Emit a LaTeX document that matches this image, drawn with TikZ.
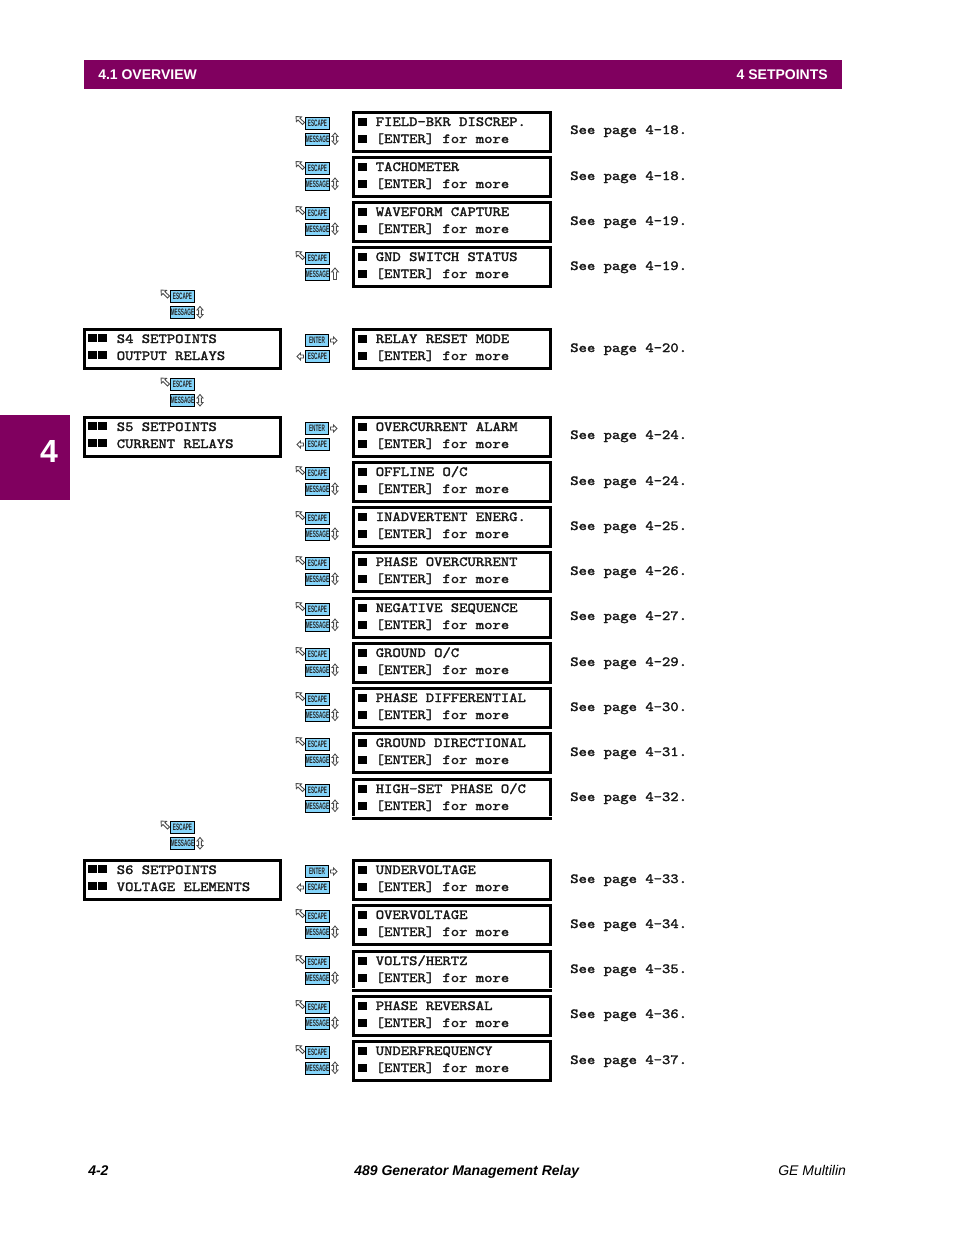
\documentclass[tikz,border=0pt]{standalone}
\usepackage{fontspec}
\setmainfont{Liberation Sans}
\newfontfamily\lcdfont[FakeStretch=1.14,FakeBold=2]{Latin Modern Mono}
\definecolor{gemag}{HTML}{80005F}
\definecolor{keyblue}{HTML}{84D4FA}
\tikzset{
  x=0.75pt,y=-0.75pt,
  lcdbox/.style={draw=black,line width=2.3pt,fill=white,rectangle,minimum width=147.7pt,minimum height=29.3pt,inner sep=0pt,anchor=north west},
  mainbox/.style={lcdbox,minimum width=146.7pt},
  lcdtext/.style={inner sep=0pt,anchor=base west,font=\lcdfont\fontsize{10.45}{12}\selectfont,text=black!90},
  pagetext/.style={lcdtext},
  sq/.style={fill=black,draw=none},
  keybox/.style={draw=black,line width=0.8pt,fill=keyblue,rectangle,minimum width=17.6pt,minimum height=9.4pt,inner sep=0pt,font=\fontsize{7}{8}\bfseries\selectfont,text=black!85},
  hollow/.style={draw=black!70,line width=0.65pt,fill=white},
  headtext/.style={inner sep=0pt,text=white,font=\fontsize{10.5}{12}\selectfont\bfseries},
  foottext/.style={inner sep=0pt,anchor=base west,font=\fontsize{10.5}{12}\selectfont},
}
\newcommand{\diagarrow}[2]{%
  \draw[hollow] (#1,#2) -- ++(5.5,0.4) -- ++(-1.6,1.3) -- ++(4.6,4.3) -- ++(-2,1.9) -- ++(-4.4,-4.4) -- ++(-1.7,1.6) -- cycle;}
\newcommand{\updown}[3]{% x, top, bottom
  \draw[hollow] (#1,#2) -- ++(3,3.5) -- ++(-1.6,0) -- (#1+1.4,#3-3.5) -- ++(1.6,0) -- (#1,#3) -- ++(-3,-3.5) -- ++(1.6,0) -- (#1-1.4,#2+3.5) -- ++(-1.6,0) -- cycle;}
\newcommand{\uponly}[3]{%
  \draw[hollow] (#1,#2) -- ++(3.5,4) -- ++(-2,0) -- (#1+1.5,#3) -- (#1-1.5,#3) -- (#1-1.5,#2+4) -- ++(-2,0) -- cycle;}
\newcommand{\rightarr}[2]{%
  \draw[hollow] (#1,#2-1.5) -- ++(3,0) -- ++(0,-2) -- ++(3.5,3.5) -- ++(-3.5,3.5) -- ++(0,-2) -- ++(-3,0) -- cycle;}
\newcommand{\leftarr}[2]{%
  \draw[hollow] (#1,#2-1.5) -- ++(-3,0) -- ++(0,-2) -- ++(-3.5,3.5) -- ++(3.5,3.5) -- ++(0,-2) -- ++(3,0) -- cycle;}
\newcommand{\keylabel}[4]{% name, cx, cy, text
  \node[keybox] (#1) at (#2,#3) {\scalebox{.5}[1]{#4}};}
% #1 id, #2 top y, #3 text line 1, #4 page, #5 page text base y
\newcommand{\subbox}[5]{%
  \node[lcdbox] (b#1) at (352,#2) {};
  \fill[sq] (358,#2+7) rectangle ++(9,7.6);
  \fill[sq] (358,#2+24) rectangle ++(9,7.6);
  \node[lcdtext] (t#1a) at (375.5,#2+15) {#3};
  \node[lcdtext] (t#1b) at (375.5,#2+32) {[ENTER] for more};
  \node[pagetext] (p#1) at (570,#5) {See page #4};}
\newcommand{\navkeys}[2]{%
  \keylabel{e#1}{317.5}{#2+12.5}{ESCAPE}
  \keylabel{m#1}{317.5}{#2+28.3}{MESSAGE}
  \diagarrow{296}{#2+5.5}
  \updown{335}{#2+22}{#2+33.5}}
\newcommand{\entkeys}[2]{%
  \keylabel{en#1}{317}{#2+12.5}{ENTER}
  \keylabel{ex#1}{317.5}{#2+28.5}{ESCAPE}
  \rightarr{330.5}{#2+12.5}
  \leftarr{303.5}{#2+28.5}}
\newcommand{\leftkeys}[2]{%
  \keylabel{le#1}{182.5}{#2+5.5}{ESCAPE}
  \keylabel{lm#1}{182.5}{#2+21.3}{MESSAGE}
  \diagarrow{161}{#2-1}
  \updown{200}{#2+15.5}{#2+27}}
\newcommand{\mainb}[4]{% id, top, l1, l2
  \node[mainbox] (mb#1) at (83,#2) {};
  \fill[sq] (88,#2+6) rectangle ++(9,7.6);
  \fill[sq] (98,#2+6) rectangle ++(9,7.6);
  \fill[sq] (88,#2+23) rectangle ++(9,7.6);
  \fill[sq] (98,#2+23) rectangle ++(9,7.6);
  \node[lcdtext] (mt#1a) at (116.5,#2+15) {#3};
  \node[lcdtext] (mt#1b) at (116.5,#2+32) {#4};}
\begin{document}
\begin{tikzpicture}
\useasboundingbox (0,0) rectangle (954,1235);
\fill[white] (0,0) rectangle (954,1235);
% header
\fill[gemag] (84,60) rectangle (842,89);
\node[headtext,anchor=west] (hl) at (98,74.5) {4.1 OVERVIEW};
\node[headtext,anchor=east] (hr) at (828,74.5) {4 SETPOINTS};
% side tab
\fill[gemag] (0,415) rectangle (70,500);
\node[inner sep=0pt,text=white,font=\fontsize{24}{26}\selectfont\bfseries] (tab) at (49,451.5) {4};
% first group
\navkeys{1}{111}
\subbox{1}{111}{FIELD-BKR DISCREP.}{4-18.}{134}
\navkeys{2}{156}
\subbox{2}{156}{TACHOMETER}{4-18.}{180}
\navkeys{3}{201}
\subbox{3}{201}{WAVEFORM CAPTURE}{4-19.}{225}
\keylabel{e4}{317.5}{258.5}{ESCAPE}
\keylabel{m4}{317.5}{274.3}{MESSAGE}
\diagarrow{296}{251.5}
\uponly{335}{268}{279.5}
\subbox{4}{246}{GND SWITCH STATUS}{4-19.}{270}
% S4
\leftkeys{a}{291}
\mainb{4}{328}{S4 SETPOINTS}{OUTPUT RELAYS}
\entkeys{5}{328}
\subbox{5}{328}{RELAY RESET MODE}{4-20.}{352}
\leftkeys{b}{379}
% S5
\mainb{5}{416}{S5 SETPOINTS}{CURRENT RELAYS}
\entkeys{6}{416}
\subbox{6}{416}{OVERCURRENT ALARM}{4-24.}{439}
\navkeys{7}{461}
\subbox{7}{461}{OFFLINE O/C}{4-24.}{485}
\navkeys{8}{506}
\subbox{8}{506}{INADVERTENT ENERG.}{4-25.}{530}
\navkeys{9}{551}
\subbox{9}{551}{PHASE OVERCURRENT}{4-26.}{575}
\navkeys{10}{597}
\subbox{10}{597}{NEGATIVE SEQUENCE}{4-27.}{620}
\navkeys{11}{642}
\subbox{11}{642}{GROUND O/C}{4-29.}{666}
\navkeys{12}{687}
\subbox{12}{687}{PHASE DIFFERENTIAL}{4-30.}{711}
\navkeys{13}{732}
\subbox{13}{732}{GROUND DIRECTIONAL}{4-31.}{756}
\navkeys{14}{778}
\subbox{14}{778}{HIGH-SET PHASE O/C}{4-32.}{801}
\fill[white] (352,815.7) rectangle (552,816.8);
\leftkeys{c}{822}
% S6
\mainb{6}{859}{S6 SETPOINTS}{VOLTAGE ELEMENTS}
\entkeys{15}{859}
\subbox{15}{859}{UNDERVOLTAGE}{4-33.}{883}
\navkeys{16}{904}
\subbox{16}{904}{OVERVOLTAGE}{4-34.}{928}
\navkeys{17}{950}
\subbox{17}{950}{VOLTS/HERTZ}{4-35.}{973}
\fill[white] (352,987.7) rectangle (552,988.8);
\navkeys{18}{995}
\subbox{18}{995}{PHASE REVERSAL}{4-36.}{1018}
\navkeys{19}{1040}
\subbox{19}{1040}{UNDERFREQUENCY}{4-37.}{1064}
% footer
\node[foottext,font=\fontsize{10.5}{12}\selectfont\bfseries\itshape] (f1) at (88,1175) {4-2};
\node[foottext,font=\fontsize{10.5}{12}\selectfont\bfseries\itshape] (f2) at (354,1175) {489 Generator Management Relay};
\node[foottext,font=\fontsize{10.5}{12}\selectfont\itshape] (f3) at (778,1175) {GE Multilin};
\end{tikzpicture}
\end{document}
